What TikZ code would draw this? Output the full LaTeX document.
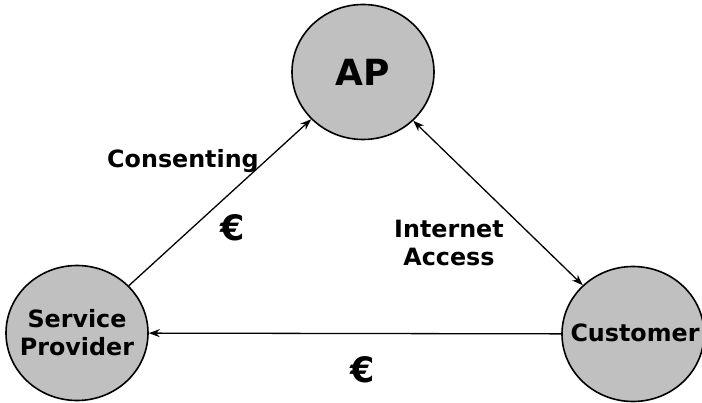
\documentclass[tikz,border=0pt]{standalone}
\usepackage{fontspec}
\setmainfont{DejaVu Sans}
\usetikzlibrary{shapes.geometric,arrows.meta}
\definecolor{nodegray}{RGB}{192,192,192}
\begin{document}
\begin{tikzpicture}[x=1pt,y=-1pt,
  party/.style={ellipse,draw=black,line width=1.6pt,fill=nodegray,minimum width=142pt,minimum height=135pt,inner sep=0pt},
  lbl/.style={font=\fontsize{23.8}{28}\selectfont\bfseries,align=center,inner sep=1pt},
  big/.style={font=\fontsize{36}{40}\selectfont\bfseries,inner sep=1pt},
  euro/.style={font=\fontsize{35}{40}\selectfont\bfseries,inner sep=1pt},
  link/.style={line width=1.3pt,-{Stealth[length=11pt,width=8pt]}}
]
\useasboundingbox (0,0) rectangle (702,403);
\node[party] (ap) at (363,72) {};
\node[party] (sp) at (77,333) {};
\node[party] (cu) at (633,334) {};
\node[big] (apt) at (ap.center) {AP};
\node[lbl] (spt) at (sp.center) {Service\\Provider};
\node[lbl] (cut) at (635,333) {Customer};
\draw[link] (sp) -- (ap);
\draw[line width=1.3pt,{Stealth[length=11pt,width=8pt]}-{Stealth[length=11pt,width=8pt]}] (ap) -- (cu);
\draw[link] (cu) -- (sp);
\node[lbl] (cons) at (183,161) {Consenting};
\node[euro] (e1) at (233,228) {€};
\node[lbl] (ia) at (449,243) {Internet\\Access};
\node[euro] (e2) at (363,370) {€};
\end{tikzpicture}
\end{document}
